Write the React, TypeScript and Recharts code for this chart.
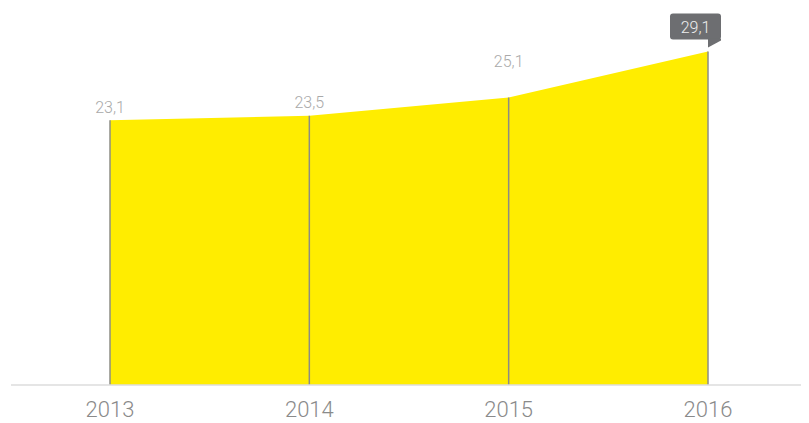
import React from "react";
import {
  AreaChart,
  Area,
  XAxis,
  YAxis,
  ReferenceLine,
  LabelList,
} from "recharts";

const years = ["2013", "2014", "2015", "2016"];
const values = [23.1, 23.5, 25.1, 29.1];
const valueLabels = ["23,1", "23,5", "25,1", "29,1"];

const chartData = years.map((year, i) => ({
  year,
  value: values[i],
  label: valueLabels[i],
}));

const FONT = "'Helvetica Neue', Roboto, 'Liberation Sans', Arial, sans-serif";

// distance of each plain label above its point
const labelLift = [7, 8, 30];

const renderLabel = (props: any) => {
  const { x, y, index, value } = props;
  const cx = Number(x);
  const cy = Number(y);
  if (index === chartData.length - 1) {
    // last value in a dark callout
    const left = cx - 38;
    const right = cx + 13;
    const top = cy - 38;
    const bottom = cy - 12;
    return (
      <g>
        <rect x={left} y={top} width={right - left} height={bottom - top} rx={3} fill="#6d6e71" />
        <path d={`M${cx} ${bottom - 1} L${right} ${bottom - 1} L${right} ${bottom + 1} L${cx} ${cy - 4} Z`} fill="#6d6e71" />
        <text x={(left + right) / 2} y={cy - 19} textAnchor="middle" fill="#eeeeee" fontSize={16} fontFamily={FONT} fontWeight={300}>
          {value}
        </text>
      </g>
    );
  }
  return (
    <text x={cx} y={cy - labelLift[index]} textAnchor="middle" fill="#a9a9a9" fontSize={16} fontFamily={FONT} fontWeight={300}>
      {value}
    </text>
  );
};

const renderTick = (props: any) => {
  const { x, y, payload } = props;
  // y is the axis line + 8px (tick size + margin)
  return (
    <text x={x} y={y + 24} textAnchor="middle" fill="#8a8a8a" fontSize={22} fontFamily={FONT} fontWeight={300}>
      {payload.value}
    </text>
  );
};

export default function App() {
  return (
    <div style={{ width: 801, height: 415, background: "#fff" }}>
      <AreaChart
        width={801}
        height={415}
        data={chartData}
        margin={{ top: 0, right: 4, left: 3, bottom: 0 }}
      >
        <XAxis
          dataKey="year"
          axisLine={{ stroke: "#dddddd", strokeWidth: 1.5 }}
          tickLine={false}
          padding={{ left: 99, right: 97 }}
          height={38}
          tick={renderTick}
          interval={0}
        />
        <YAxis hide domain={[0, 32.9]} />
        <Area
          type="linear"
          dataKey="value"
          stroke="none"
          fill="#ffed00"
          fillOpacity={1}
          dot={false}
          activeDot={false}
          isAnimationActive={false}
        >
          <LabelList dataKey="label" content={renderLabel} />
        </Area>
        {chartData.map((d) => (
          <ReferenceLine
            key={d.year}
            segment={[
              { x: d.year, y: 0 },
              { x: d.year, y: d.value },
            ]}
            stroke="#8c8c84"
            strokeWidth={1.5}
          />
        ))}
      </AreaChart>
    </div>
  );
}
